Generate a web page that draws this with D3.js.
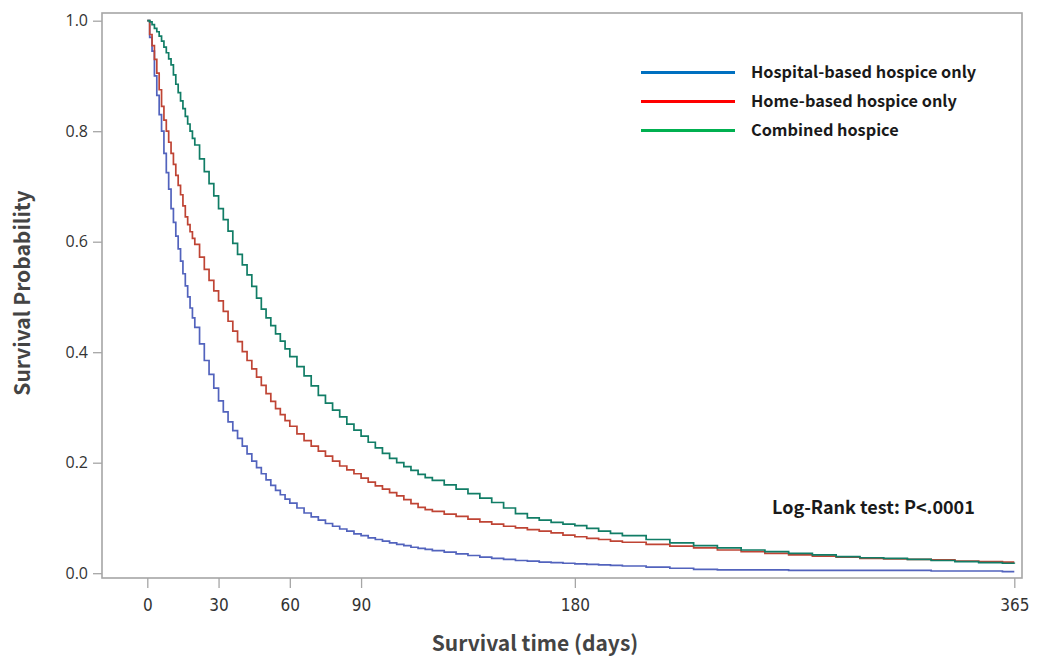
<!DOCTYPE html>
<html>
<head>
<meta charset="utf-8">
<script src="https://cdn.jsdelivr.net/npm/d3@7"></script>
<style>
  html, body { margin: 0; padding: 0; background: #fff; }
  svg { display: block; }
</style>
</head>
<body>
<svg id="chart" width="1038" height="661"></svg>
<script>
// ---- data ----
const days = [
  0,1,2,3,4,5,6,7,8,9,10,11,12,13,14,15,16,17,18,19,20,
  22,24,26,28,30,32,34,36,38,40,42,44,46,48,50,52,54,56,58,60,
  63,66,69,72,75,78,81,84,87,90,93,96,99,102,105,108,111,114,117,120,
  125,130,135,140,145,150,155,160,165,170,175,180,185,190,195,200,
  210,220,230,240,250,260,270,280,290,300,310,320,330,340,350,360,
  365];

const hospitalOnly = [
  1.000,0.970,0.945,0.900,0.865,0.830,0.800,0.760,0.725,0.695,0.660,0.635,0.610,0.587,0.565,0.542,0.520,0.500,0.480,0.462,0.445,
  0.415,0.385,0.360,0.335,0.312,0.292,0.274,0.258,0.244,0.230,0.216,0.203,0.191,0.180,0.169,0.159,0.150,0.142,0.134,0.127,
  0.118,0.109,0.102,0.096,0.090,0.085,0.080,0.076,0.071,0.068,0.064,0.061,0.058,0.055,0.052,0.050,0.047,0.045,0.043,0.041,
  0.038,0.035,0.032,0.029,0.027,0.025,0.023,0.022,0.020,0.019,0.018,0.017,0.016,0.015,0.014,0.013,
  0.011,0.009,0.007,0.006,0.006,0.006,0.005,0.005,0.005,0.005,0.005,0.005,0.004,0.004,0.004,0.003,
  0.003];

const homeOnly = [
  1.000,0.975,0.955,0.930,0.905,0.875,0.845,0.820,0.800,0.780,0.760,0.740,0.720,0.702,0.685,0.665,0.645,0.631,0.618,0.606,0.595,
  0.572,0.550,0.530,0.511,0.493,0.474,0.456,0.438,0.419,0.401,0.385,0.370,0.355,0.340,0.325,0.311,0.298,0.287,0.276,0.266,
  0.252,0.240,0.230,0.221,0.212,0.203,0.194,0.187,0.180,0.172,0.165,0.158,0.152,0.146,0.140,0.133,0.126,0.119,0.115,0.112,
  0.107,0.103,0.098,0.093,0.089,0.085,0.082,0.079,0.076,0.073,0.069,0.066,0.063,0.061,0.058,0.056,
  0.052,0.049,0.046,0.042,0.039,0.036,0.033,0.031,0.029,0.027,0.026,0.025,0.024,0.022,0.021,0.020,
  0.020];

const combined = [
  1.000,0.998,0.993,0.986,0.980,0.972,0.963,0.952,0.942,0.931,0.920,0.902,0.885,0.870,0.855,0.841,0.827,0.813,0.800,0.787,0.775,
  0.750,0.727,0.705,0.683,0.660,0.640,0.619,0.597,0.577,0.558,0.540,0.519,0.498,0.478,0.462,0.448,0.433,0.420,0.406,0.392,
  0.374,0.357,0.339,0.322,0.308,0.295,0.283,0.270,0.259,0.248,0.237,0.227,0.217,0.208,0.200,0.193,0.186,0.179,0.173,0.168,
  0.160,0.152,0.144,0.136,0.128,0.118,0.108,0.100,0.096,0.092,0.089,0.086,0.081,0.076,0.072,0.068,
  0.061,0.055,0.050,0.046,0.042,0.039,0.036,0.033,0.030,0.028,0.027,0.025,0.023,0.021,0.019,0.018,
  0.017];

const seriesNames = ["Hospital-based hospice only", "Home-based hospice only", "Combined hospice"];
const curveColors = ["#5263bd", "#bf4434", "#117d66"];
const legendColors = ["#0070C0", "#FF0000", "#00B050"];
const xTicks = [0, 30, 60, 90, 180, 365];
const yTicks = [0.0, 0.2, 0.4, 0.6, 0.8, 1.0];
const xTitle = "Survival time (days)";
const yTitle = "Survival Probability";
const annotation = "Log-Rank test: P<.0001";

// ---- layout ----
const svg = d3.select("#chart");
const frame = { left: 102, top: 13, right: 1022, bottom: 578 };

const x = d3.scaleLinear().domain([0, 365]).range([147.3, 1014.3]);
const y = d3.scaleLinear().domain([0, 1]).range([573.2, 20.7]);

const frameColor = "#a6a6a6";
const tickTextColor = "#333333";

// frame
svg.append("rect")
  .attr("x", frame.left).attr("y", frame.top)
  .attr("width", frame.right - frame.left).attr("height", frame.bottom - frame.top)
  .attr("fill", "none").attr("stroke", frameColor).attr("stroke-width", 1.6);

// y axis
const yAxis = d3.axisLeft(y).tickValues(yTicks).tickFormat(d3.format(".1f")).tickSize(9).tickPadding(5);
const gy = svg.append("g").attr("transform", `translate(${frame.left},0)`).call(yAxis);
gy.select(".domain").remove();
gy.selectAll(".tick line").attr("stroke", frameColor).attr("stroke-width", 1.3);
gy.selectAll(".tick text")
  .attr("fill", tickTextColor)
  .style("font-family", "'Open Sans', 'DejaVu Sans', sans-serif")
  .style("font-size", "16px");

// x axis
const xAxis = d3.axisBottom(x).tickValues(xTicks).tickFormat(d3.format("d")).tickSize(10).tickPadding(11);
const gx = svg.append("g").attr("transform", `translate(0,${frame.bottom})`).call(xAxis);
gx.select(".domain").remove();
gx.selectAll(".tick line").attr("stroke", frameColor).attr("stroke-width", 1.3);
gx.selectAll(".tick text")
  .attr("fill", tickTextColor)
  .style("font-family", "'Liberation Sans Narrow', 'DejaVu Sans Condensed', sans-serif")
  .style("font-size", "17px");

// axis titles
svg.append("text")
  .attr("x", 535).attr("y", 651)
  .attr("text-anchor", "middle")
  .attr("fill", "#444")
  .style("font-family", "'Noto Sans CJK KR', 'Noto Sans', sans-serif")
  .style("font-weight", "bold")
  .style("font-size", "21px")
  .text(xTitle);

svg.append("text")
  .attr("transform", "translate(30,293) rotate(-90)")
  .attr("text-anchor", "middle")
  .attr("fill", "#444")
  .style("font-family", "'Noto Sans CJK KR', 'Noto Sans', sans-serif")
  .style("font-weight", "bold")
  .style("font-size", "21px")
  .text(yTitle);

// curves
const line = d3.line()
  .x(d => x(d[0]))
  .y(d => y(d[1]))
  .curve(d3.curveStepAfter);

[hospitalOnly, homeOnly, combined].forEach((vals, i) => {
  const pts = days.map((d, k) => [d, vals[k]]);
  svg.append("path")
    .datum(pts)
    .attr("d", line)
    .attr("fill", "none")
    .attr("stroke", curveColors[i])
    .attr("stroke-width", 1.7);
});

// legend
const legend = svg.append("g");
const legendY = [72.5, 101.5, 130.5];
seriesNames.forEach((name, i) => {
  legend.append("line")
    .attr("x1", 641).attr("x2", 735)
    .attr("y1", legendY[i]).attr("y2", legendY[i])
    .attr("stroke", legendColors[i]).attr("stroke-width", 3);
  legend.append("text")
    .attr("x", 751).attr("y", legendY[i])
    .attr("dy", "0.35em")
    .attr("fill", "#1a1a1a")
    .style("font-family", "'Noto Sans CJK KR', 'Noto Sans', sans-serif")
    .style("font-weight", "bold")
    .style("font-size", "16.3px")
    .text(name);
});

// annotation
svg.append("text")
  .attr("x", 772).attr("y", 508)
  .attr("dy", "0.35em")
  .attr("fill", "#1a1a1a")
  .style("font-family", "'Noto Sans CJK KR', 'Noto Sans', sans-serif")
  .style("font-weight", "bold")
  .style("font-size", "18px")
  .text(annotation);
</script>
</body>
</html>
